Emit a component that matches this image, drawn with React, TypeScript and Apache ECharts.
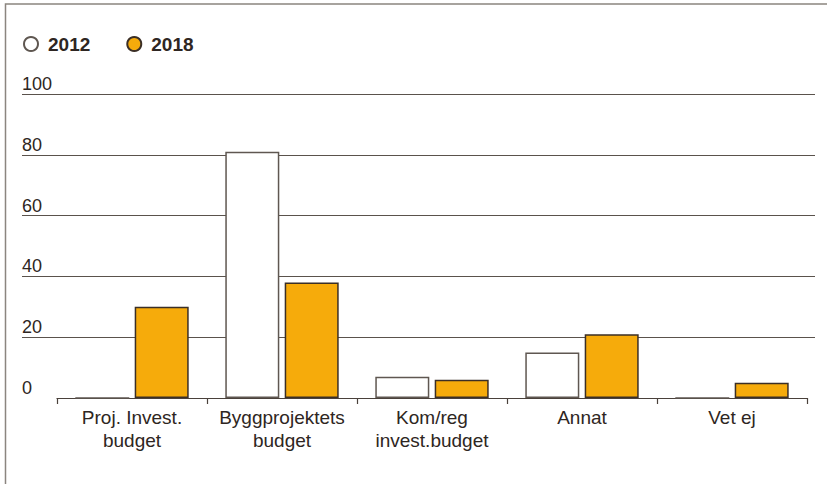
import React, { useEffect, useRef } from "react";
import * as echarts from "echarts";

const categories = ["Proj. Invest.\nbudget", "Byggprojektets\nbudget", "Kom/reg\ninvest.budget", "Annat", "Vet ej"];
const seriesNames = ["2012", "2018"];
const values2012 = [0, 81, 7, 15, 0];
const values2018 = [30, 38, 6, 21, 5];
const yTicks = { min: 0, max: 100, interval: 20 };

const TEXT = "#2e2622";
const GRID = "#5a524c";
const ORANGE = "#F6AB0B";
const FONT = "'Liberation Sans', Arial, Helvetica, sans-serif";

export default function App() {
  const ref = useRef<HTMLDivElement>(null);
  useEffect(() => {
    if (!ref.current) return;
    const chart = echarts.init(ref.current, null, { renderer: "svg" });
    chart.setOption({
      animation: false,
      backgroundColor: "#ffffff",
      textStyle: { fontFamily: FONT },
      legend: {
        left: 23,
        top: 34.5,
        padding: 0,
        itemWidth: 14,
        itemHeight: 14,
        itemGap: 36,
        icon: "circle",
        data: seriesNames,
        textStyle: { fontSize: 19, fontWeight: "bold", color: TEXT, fontFamily: FONT, padding: [0, 0, 0, 5] },
      },
      graphic: [
        {
          type: "polyline",
          shape: { points: [[5.5, 484], [5.5, 4], [827, 4]] },
          style: { stroke: "#8b857f", lineWidth: 1.5, fill: "none" },
          silent: true,
        },
      ],
      grid: [
        { left: 22, top: 94, width: 793, height: 304 },
        { left: 57, top: 94, width: 750, height: 304 },
      ],
      xAxis: [
        { type: "value", gridIndex: 0, show: false, min: 0, max: 1 },
        {
          type: "category",
          gridIndex: 1,
          data: categories,
          boundaryGap: true,
          axisLine: { show: true, lineStyle: { color: "#4a413b", width: 1.2 } },
          axisTick: { show: true, length: 6, lineStyle: { color: "#4a413b", width: 1.2 } },
          axisLabel: { color: TEXT, fontSize: 19, lineHeight: 23, margin: 8, fontFamily: FONT, interval: 0 },
        },
      ],
      yAxis: [
        {
          type: "value",
          gridIndex: 0,
          min: yTicks.min,
          max: yTicks.max,
          interval: yTicks.interval,
          axisLine: { show: false },
          axisTick: { show: false },
          axisLabel: {
            inside: true,
            margin: 0,
            align: "left",
            verticalAlign: "bottom",
            padding: [0, 0, 1, 0],
            color: TEXT,
            fontSize: 18,
            fontFamily: FONT,
          },
          splitLine: {
            show: true,
            lineStyle: { color: ["rgba(0,0,0,0)", GRID, GRID, GRID, GRID, GRID], width: 1.2 },
          },
        },
        { type: "value", gridIndex: 1, min: yTicks.min, max: yTicks.max, interval: yTicks.interval, show: false },
      ],
      series: [
        {
          name: seriesNames[0],
          type: "bar",
          xAxisIndex: 1,
          yAxisIndex: 1,
          data: values2012,
          barWidth: 54,
          barGap: "10%",
          itemStyle: { color: "#ffffff", borderColor: "#5f5751", borderWidth: 1.5 },
        },
        {
          name: seriesNames[1],
          type: "bar",
          xAxisIndex: 1,
          yAxisIndex: 1,
          data: values2018,
          barWidth: 54,
          barGap: "10%",
          itemStyle: { color: ORANGE, borderColor: "#3b2f26", borderWidth: 1.5 },
        },
      ],
    });
    return () => chart.dispose();
  }, []);
  return <div ref={ref} style={{ position: "absolute", left: 0, top: 0, width: 827, height: 484 }} />;
}
